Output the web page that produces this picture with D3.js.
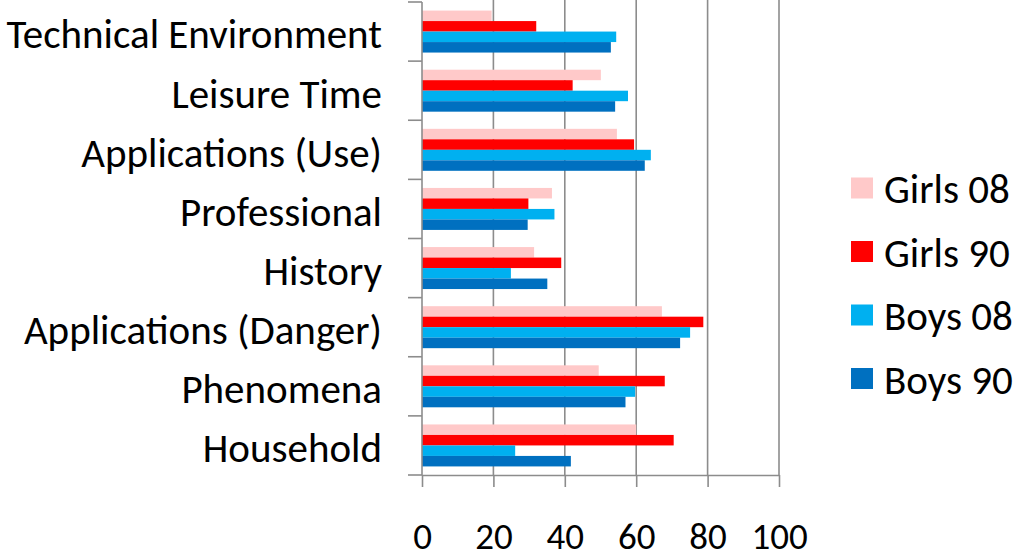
<!DOCTYPE html>
<html>
<head>
<meta charset="utf-8">
<script src="https://cdn.jsdelivr.net/npm/d3@7"></script>
<style>
  html, body { margin: 0; padding: 0; background: #fff; }
  svg { display: block; }
  text { font-family: Carlito, Calibri, "Liberation Sans", Arial, sans-serif; fill: #000; }
</style>
</head>
<body>
<svg id="chart" width="1014" height="558"></svg>
<script>
// ---- data ----
const categories = ["Technical Environment", "Leisure Time", "Applications (Use)", "Professional", "History", "Applications (Danger)", "Phenomena", "Household"];
const seriesNames = ["Girls 08", "Girls 90", "Boys 08", "Boys 90"];
const girls08 = [19.5, 50.1, 54.6, 36.4, 31.4, 67.2, 49.5, 60.0];
const girls90 = [32.0, 42.2, 59.4, 29.8, 39.0, 78.8, 68.0, 70.5];
const boys08  = [54.4, 57.7, 64.1, 37.1, 24.9, 75.1, 59.7, 26.1];
const boys90  = [52.9, 54.1, 62.4, 29.6, 35.1, 72.3, 57.0, 41.7];
const xTicks = [0, 20, 40, 60, 80, 100];
const colors = ["#ffc9c9", "#ff0000", "#00b0f0", "#0070c0"];

const seriesValues = [girls08, girls90, boys08, boys90];
const rows = categories.map((c, i) => ({
  category: c,
  values: seriesNames.map((s, j) => ({ series: s, value: seriesValues[j][i] }))
}));

// ---- layout ----
const svg = d3.select("#chart");
const plotLeft = 422, plotRight = 779, plotTop = 2, plotBottom = 475;
const axisColor = "#8c8c8c";

const x = d3.scaleLinear().domain([0, 100]).range([plotLeft, plotRight]);
const y = d3.scaleBand().domain(categories).range([plotTop, plotBottom]).paddingInner(0.29).paddingOuter(0.145);
const ySub = d3.scaleBand().domain(seriesNames).range([0, y.bandwidth()]);
const color = d3.scaleOrdinal().domain(seriesNames).range(colors);

// gridlines
svg.append("g")
  .selectAll("line")
  .data(xTicks.filter(d => d > 0))
  .join("line")
  .attr("x1", d => x(d)).attr("x2", d => x(d))
  .attr("y1", 0).attr("y2", plotBottom)
  .attr("stroke", axisColor).attr("stroke-width", 1.6);

// bars
svg.append("g")
  .selectAll("g")
  .data(rows)
  .join("g")
  .attr("transform", d => `translate(0,${y(d.category)})`)
  .selectAll("rect")
  .data(d => d.values)
  .join("rect")
  .attr("x", x(0))
  .attr("y", d => ySub(d.series))
  .attr("width", d => x(d.value) - x(0))
  .attr("height", ySub.bandwidth())
  .attr("fill", d => color(d.series));

// x axis
const xAxis = svg.append("g")
  .attr("transform", `translate(0,${plotBottom})`)
  .call(d3.axisBottom(x).tickValues(xTicks).tickSize(12).tickSizeOuter(0));
xAxis.select(".domain").attr("stroke", axisColor).attr("stroke-width", 1.6);
xAxis.selectAll(".tick line").attr("stroke", axisColor).attr("stroke-width", 1.6);
xAxis.selectAll(".tick text").style("font-size", "37px").attr("y", 74).attr("dy", null);

// y axis (labels at band centers)
const yAxis = svg.append("g")
  .attr("transform", `translate(${plotLeft},0)`)
  .call(d3.axisLeft(y).tickSize(0).tickPadding(40).tickSizeOuter(0));
yAxis.select(".domain").attr("stroke", axisColor).attr("stroke-width", 1.6)
  .attr("d", `M0,${plotTop}V${plotBottom}`);
yAxis.selectAll(".tick text").style("font-size", "41px").attr("dy", "0.41em");

// category separator ticks
const boundaries = categories.map(c => y(c) - y.step() * y.paddingOuter());
boundaries.push(plotBottom);
svg.append("g")
  .selectAll("line")
  .data(boundaries)
  .join("line")
  .attr("x1", plotLeft - 14).attr("x2", plotLeft)
  .attr("y1", d => d).attr("y2", d => d)
  .attr("stroke", axisColor).attr("stroke-width", 1.6);

// legend
const legend = svg.append("g")
  .selectAll("g")
  .data(seriesNames)
  .join("g")
  .attr("transform", (d, i) => `translate(851,${188 + i * 63.5})`);
legend.append("rect")
  .attr("x", 0).attr("y", -10.5)
  .attr("width", 22).attr("height", 21)
  .attr("fill", d => color(d));
legend.append("text")
  .attr("x", 33).attr("y", 0).attr("dy", "0.37em")
  .style("font-size", "41px")
  .text(d => d);
</script>
</body>
</html>
